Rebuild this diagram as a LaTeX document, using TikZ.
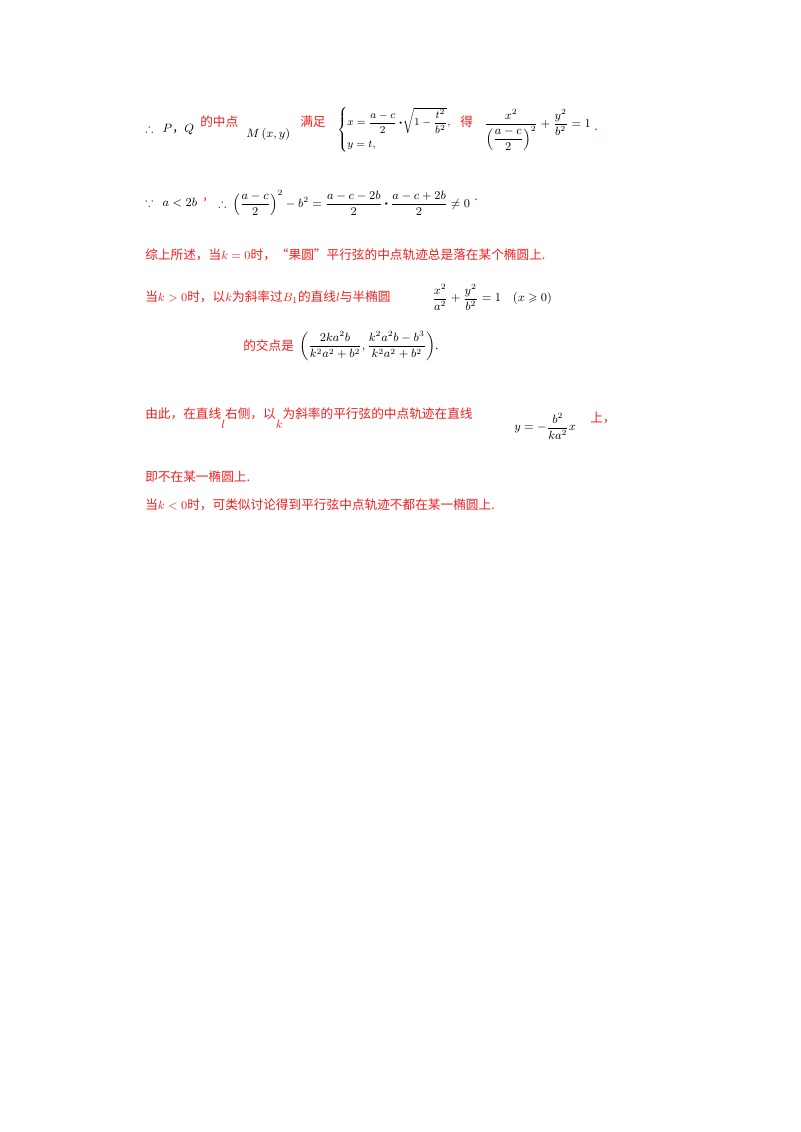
\documentclass[tikz,border=0pt]{standalone}
\usepackage{amsmath,amssymb}
\usepackage{fontspec}
\setmainfont{Liberation Serif}
\newfontfamily\cjk{Noto Sans CJK SC}
\definecolor{rd}{RGB}{240,30,30}
\newcommand{\bdot}{\mathbin{\vcenter{\hbox{\scalebox{0.5}{$\bullet$}}}}}
\tikzset{t/.style={anchor=west,inner sep=0pt,font=\fontsize{9}{11}\selectfont},r/.style={t,text=rd,font=\fontsize{9.5}{11}\selectfont\cjk}}
\begin{document}
\begin{tikzpicture}[x=0.75pt,y=-0.75pt]
\useasboundingbox (0,0) rectangle (800,1132);
\node[t] (a1) at (145,130) {$\therefore\ \ P${\cjk，}$Q$};
\node[r] (a2) at (200,122) {的中点};
\node[t] (a3) at (246,134) {$M\,(x,y)$};
\node[r] (a4) at (300,122) {满足};
\node[t,font=\fontsize{8}{10}\selectfont] (a5) at (337,130) {$\begin{cases}x=\dfrac{a-c}{2}\bdot\!\sqrt{1-\dfrac{t^2}{b^2}},\\[4pt] y=t,\end{cases}$};
\node[r] (a6) at (460,122) {得};
\node[t] (a7) at (484,130) {$\dfrac{x^2}{\left(\dfrac{a-c}{2}\right)^2}+\dfrac{y^2}{b^2}=1$};
\node[r] (a8) at (594,130) {.};
\node[t] (b1) at (145,203) {$\because\ \ a<2b$};
\node[r] (b2) at (203,200) {,};
\node[t] (b3) at (218,203) {$\therefore\ \left(\dfrac{a-c}{2}\right)^2-b^2=\dfrac{a-c-2b}{2}\bdot\dfrac{a-c+2b}{2}\neq0$};
\node[r] (b4) at (474,200) {.};
\node[r] (c1) at (145,255) {综上所述，当$k=0$时，“果圆”平行弦的中点轨迹总是落在某个椭圆上.};
\node[r] (d1) at (145,297) {当$k>0$时，以$k$为斜率过$B_1$的直线$l$与半椭圆};
\node[t] (d2) at (432,297) {$\dfrac{x^2}{a^2}+\dfrac{y^2}{b^2}=1\quad(x\geqslant0)$};
\node[r] (e1) at (243,346) {的交点是};
\node[t] (e2) at (299,346) {$\left(\dfrac{2ka^2b}{k^2a^2+b^2},\dfrac{k^2a^2b-b^3}{k^2a^2+b^2}\right)$.};
\node[r] (f1) at (145,418) {由此，在直线\raisebox{-8pt}{$l$}右侧，以\raisebox{-8pt}{$k$}为斜率的平行弦的中点轨迹在直线};
\node[t] (f2) at (514,426) {$y=-\dfrac{b^2}{ka^2}x$};
\node[r] (f3) at (590,418) {上，};
\node[r] (g1) at (145,477) {即不在某一椭圆上.};
\node[r] (h1) at (145,505) {当$k<0$时，可类似讨论得到平行弦中点轨迹不都在某一椭圆上.};
\end{tikzpicture}
\end{document}
